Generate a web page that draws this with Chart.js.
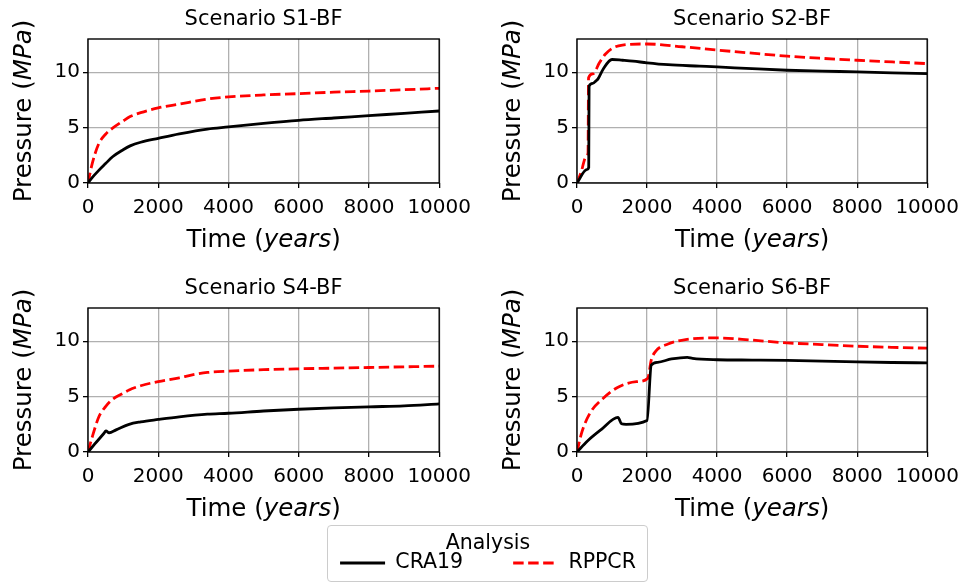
<!DOCTYPE html>
<html>
<head>
<meta charset="utf-8">
<script src="https://cdn.jsdelivr.net/npm/chart.js@4/dist/chart.umd.min.js"></script>
<style>
  body { margin: 0; background: #fff; width: 967px; height: 583px; position: relative; overflow: hidden; }
  canvas { position: absolute; }
  #legendBox { position: absolute; left: 327px; top: 525px; width: 319px; height: 55px;
    border: 1px solid #cccccc; border-radius: 4px; background: rgba(255,255,255,0.8); }
</style>
</head>
<body>
<canvas id="s1" width="479" height="265" style="left:0px;top:0px"></canvas>
<canvas id="s2" width="478" height="265" style="left:489px;top:0px"></canvas>
<canvas id="s4" width="479" height="265" style="left:0px;top:269px"></canvas>
<canvas id="s6" width="478" height="265" style="left:489px;top:269px"></canvas>
<div id="legendBox"></div>
<canvas id="legend" width="500" height="140" style="left:238px;top:525px"></canvas>
<script>
const xTicks = [0, 2000, 4000, 6000, 8000, 10000]
const xTickLabels = ['0', '2000', '4000', '6000', '8000', '10000']
const yTicks = [0, 5, 10]
const yTickLabels = ['0', '5', '10']
const seriesNames = ['CRA19', 'RPPCR']
const legendTitle = 'Analysis'
const xLabelParts = [['Time (', false], ['years', true], [')', false]]
const yLabelParts = [['Pressure (', false], ['MPa', true], [')', false]]

// Scenario S1-BF
const s1CraT = [0, 100, 300, 500, 700, 1000, 1200, 1500, 2000, 2600, 3400, 4000, 5000, 6000, 7000, 8000, 9000, 10000]
const s1Cra  = [0, 0.42, 1.12, 1.75, 2.37, 3.0, 3.35, 3.68, 4.03, 4.43, 4.87, 5.06, 5.38, 5.66, 5.87, 6.08, 6.29, 6.5]
const s1RppT = [0, 120, 300, 500, 700, 1000, 1200, 1500, 2000, 2600, 3400, 4000, 5000, 6000, 7000, 8000, 9000, 10000]
const s1Rpp  = [0, 1.75, 3.5, 4.4, 4.95, 5.6, 6.0, 6.35, 6.78, 7.12, 7.58, 7.77, 7.95, 8.07, 8.2, 8.3, 8.42, 8.55]

// Scenario S2-BF
const s2CraT = [0, 280, 335, 345, 450, 560, 600, 750, 1000, 1300, 1600, 2000, 2600, 3500, 4000, 5000, 6000, 7000, 8000, 9000, 10000]
const s2Cra  = [0, 1.2, 1.4, 8.75, 9.0, 9.27, 9.4, 10.3, 11.15, 11.08, 11.0, 10.85, 10.68, 10.55, 10.48, 10.32, 10.18, 10.1, 10.03, 9.95, 9.88]
const s2RppT = [0, 120, 250, 315, 330, 450, 640, 800, 1030, 1300, 2000, 3000, 4000, 5000, 6000, 7000, 8000, 9000, 10000]
const s2Rpp  = [0, 1.0, 2.3, 2.7, 9.5, 9.85, 10.85, 11.6, 12.2, 12.45, 12.55, 12.3, 12.0, 11.72, 11.45, 11.25, 11.08, 10.93, 10.78]

// Scenario S4-BF
const s4CraT = [0, 200, 450, 510, 600, 800, 1170, 1500, 2000, 2600, 3400, 4000, 5000, 6000, 7000, 8000, 9000, 10000]
const s4Cra  = [0, 0.75, 1.67, 1.9, 1.74, 2.0, 2.5, 2.72, 2.94, 3.18, 3.42, 3.5, 3.7, 3.86, 3.98, 4.08, 4.16, 4.34]
const s4RppT = [0, 120, 310, 500, 700, 1000, 1170, 1500, 2000, 2600, 3000, 3400, 4000, 5000, 6000, 7000, 8000, 9000, 10000]
const s4Rpp  = [0, 1.35, 3.18, 4.1, 4.76, 5.3, 5.6, 5.98, 6.36, 6.7, 6.98, 7.18, 7.3, 7.43, 7.51, 7.57, 7.63, 7.69, 7.75]

// Scenario S6-BF
const s6CraT = [0, 300, 700, 1170, 1270, 1400, 2000, 2120, 2300, 2700, 3150, 3300, 4000, 5000, 6000, 7000, 8000, 9000, 10000]
const s6Cra  = [0, 1.0, 2.05, 3.12, 2.55, 2.5, 2.85, 7.85, 8.1, 8.4, 8.55, 8.45, 8.33, 8.3, 8.27, 8.2, 8.13, 8.08, 8.05]
const s6RppT = [0, 130, 370, 750, 1200, 1700, 2020, 2120, 2250, 2600, 3100, 4000, 5000, 6000, 7000, 8000, 9000, 10000]
const s6Rpp  = [0, 1.7, 3.5, 4.85, 5.9, 6.35, 6.65, 8.3, 9.1, 9.75, 10.15, 10.3, 10.1, 9.85, 9.7, 9.55, 9.45, 9.37]

const FONT = "'DejaVu Sans', sans-serif"
Chart.defaults.font.family = FONT
Chart.defaults.color = '#000'

const lineStyles = [
  { borderColor: '#000000', borderWidth: 2.8 },
  { borderColor: '#ff0000', borderWidth: 2.8, borderDash: [10.5, 4.5] }
]

function drawRich(ctx, parts, x, y, angle, size) {
  ctx.save()
  ctx.translate(x, y)
  ctx.rotate(angle)
  ctx.textBaseline = 'middle'
  ctx.textAlign = 'left'
  ctx.fillStyle = '#000'
  const fonts = parts.map(p => (p[1] ? 'italic ' : '') + size + 'px ' + FONT)
  let total = 0
  const widths = parts.map((p, i) => { ctx.font = fonts[i]; const w = ctx.measureText(p[0]).width; total += w; return w })
  let cx = -total / 2
  parts.forEach((p, i) => { ctx.font = fonts[i]; ctx.fillText(p[0], cx, 0); cx += widths[i] })
  ctx.restore()
}

// top/right spines plus the mixed-style axis labels
const framePlugin = {
  id: 'frame',
  afterDatasetsDraw(chart) {
    const { ctx, chartArea: a } = chart
    ctx.save()
    ctx.strokeStyle = '#000'
    ctx.lineWidth = 1.4
    ctx.strokeRect(a.left, a.top, a.right - a.left, a.bottom - a.top)
    ctx.restore()
  },
  afterDraw(chart) {
    const { ctx, chartArea: a } = chart
    drawRich(ctx, xLabelParts, (a.left + a.right) / 2, a.bottom + 58, 0, 24.5)
    drawRich(ctx, yLabelParts, a.left - 63, (a.top + a.bottom) / 2, -Math.PI / 2, 24.5)
  }
}

function makeChart(id, title, craT, cra, rppT, rpp) {
  const series = [[craT, cra], [rppT, rpp]]
  return new Chart(document.getElementById(id), {
    type: 'line',
    data: {
      datasets: series.map((s, k) => Object.assign({
        label: seriesNames[k],
        data: s[0].map((t, i) => ({ x: t, y: s[1][i] })),
        pointRadius: 0,
        fill: false,
        cubicInterpolationMode: 'monotone'
      }, lineStyles[k]))
    },
    options: {
      responsive: false, animation: false, devicePixelRatio: 1,
      layout: { padding: { left: 0, top: 0, right: 38, bottom: 0 } },
      plugins: {
        legend: { display: false },
        tooltip: { enabled: false },
        title: { display: true, text: title, fullSize: false, color: '#000',
          font: { size: 21, weight: 'normal' }, padding: { top: 7, bottom: 6.8 } }
      },
      scales: {
        x: {
          type: 'linear', min: 0, max: 10000,
          afterBuildTicks: s => { s.ticks = xTicks.map(v => ({ value: v })) },
          afterFit: s => { s.height = 82 },
          ticks: { callback: (v, i) => xTickLabels[i], font: { size: 20 }, color: '#000',
            padding: 8, autoSkip: false, maxRotation: 0, minRotation: 0 },
          grid: { color: '#b0b0b0', lineWidth: 1.3, tickColor: '#000', tickLength: 5, tickWidth: 1.3 },
          border: { display: false }
        },
        y: {
          min: 0, max: 13,
          afterBuildTicks: s => { s.ticks = yTicks.map(v => ({ value: v })) },
          afterFit: s => { s.width = 88 },
          ticks: { callback: (v, i) => yTickLabels[i], font: { size: 20 }, color: '#000', padding: 3 },
          grid: { color: '#b0b0b0', lineWidth: 1.3, tickColor: '#000', tickLength: 5, tickWidth: 1.3 },
          border: { display: false }
        }
      }
    },
    plugins: [framePlugin]
  })
}

makeChart('s1', 'Scenario S1-BF', s1CraT, s1Cra, s1RppT, s1Rpp)
makeChart('s2', 'Scenario S2-BF', s2CraT, s2Cra, s2RppT, s2Rpp)
makeChart('s4', 'Scenario S4-BF', s4CraT, s4Cra, s4RppT, s4Rpp)
makeChart('s6', 'Scenario S6-BF', s6CraT, s6Cra, s6RppT, s6Rpp)

// shared legend
new Chart(document.getElementById('legend'), {
  type: 'line',
  data: {
    datasets: seriesNames.map((name, k) => Object.assign({ label: name, data: [] }, lineStyles[k]))
  },
  options: {
    responsive: false, animation: false, devicePixelRatio: 1,
    scales: { x: { display: false }, y: { display: false } },
    plugins: {
      tooltip: { enabled: false },
      legend: {
        position: 'top',
        maxHeight: 64,
        labels: {
          usePointStyle: true, pointStyle: 'line', pointStyleWidth: 45,
          font: { size: 20.5 }, color: '#000', padding: 50,
          // point style drops the dash, so copy the line style back in
          generateLabels: chart => Chart.defaults.plugins.legend.labels.generateLabels(chart).map(item => {
            const st = lineStyles[item.datasetIndex]
            item.lineDash = st.borderDash || []
            item.lineWidth = st.borderWidth
            item.strokeStyle = st.borderColor
            return item
          })
        },
        title: { display: true, text: legendTitle, color: '#000',
          font: { size: 20.5, lineHeight: 1 }, padding: { top: 8, bottom: -50.75 } }
      }
    }
  }
})
</script>
</body>
</html>
